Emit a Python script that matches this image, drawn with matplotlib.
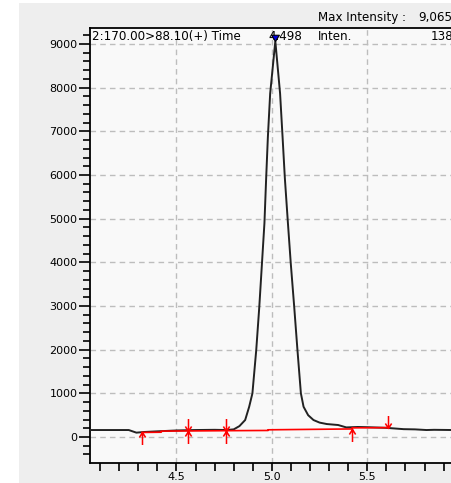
import matplotlib
matplotlib.use("Agg")
import matplotlib.pyplot as plt
from matplotlib.path import Path
from matplotlib.ticker import MultipleLocator
from matplotlib.patches import Rectangle

# chromatogram trace (time in min, intensity)
time = [4.05, 4.25, 4.29, 4.33, 4.40, 4.45, 4.50, 4.60, 4.70, 4.76, 4.80, 4.83,
        4.86, 4.881, 4.898, 4.918, 4.934, 4.948, 4.961, 4.970, 4.979, 4.991,
        5.018, 5.043, 5.056, 5.068, 5.084, 5.099, 5.117, 5.134, 5.152, 5.166,
        5.19, 5.218, 5.25, 5.288, 5.347, 5.39, 5.45, 5.50, 5.60, 5.69, 5.75,
        5.81, 5.85, 5.95]
inten = [160, 160, 100, 115, 130, 140, 150, 160, 165, 160, 175, 250,
         389, 693, 1000, 1990, 2980, 3975, 4900, 5925, 6870, 7865,
         9065, 7865, 6870, 5925, 4900, 3975, 2980, 1990, 1000, 693,
         500, 389, 330, 297, 275, 220, 230, 225, 210, 180, 175,
         160, 165, 160]

# integration baseline (red)
base_t = [4.32, 4.42, 4.42, 4.76, 4.98, 4.98, 5.42, 5.42, 5.61]
base_i = [105, 110, 135, 145, 150, 165, 185, 210, 215]

# peak start / end marks
up_t = [4.32, 4.56, 4.76, 5.42]
up_i = [105, 140, 145, 185]
down_t = [4.56, 4.76, 5.61]
down_i = [140, 145, 215]

apex_t = 5.018
apex_i = 9065

header = "2:170.00>88.10(+) Time"
rt_text = "4.498"

fig = plt.figure(figsize=(4.51, 4.83), dpi=100, facecolor="#eeeeee")
fig.patches.append(Rectangle((0, 0), 19 / 451, 1, transform=fig.transFigure,
                             facecolor="white", edgecolor="none", zorder=0))
fig.patches.append(Rectangle((0, 1 - 3 / 483), 1, 3 / 483, transform=fig.transFigure,
                             facecolor="white", edgecolor="none", zorder=0))

ax = fig.add_axes([90 / 451, 1 - 463 / 483, 0.818, 435 / 483])
ax.set_facecolor("#f9f9f9")
ax.set_xlim(4.047, 5.98)
ax.set_ylim(-595, 9366)

ax.plot(time, inten, color="#222222", lw=1.4, zorder=3)
ax.plot(base_t, base_i, color="red", lw=1.2, zorder=4)

up_arrow = Path([(0, -2), (0, 0), (-0.5, -0.8), (0, 0), (0.5, -0.8)],
                [Path.MOVETO, Path.LINETO, Path.MOVETO, Path.LINETO, Path.LINETO])
down_arrow = Path([(0, 2), (0, 0), (-0.5, 0.8), (0, 0), (0.5, 0.8)],
                  [Path.MOVETO, Path.LINETO, Path.MOVETO, Path.LINETO, Path.LINETO])
ax.plot(up_t, up_i, ls="none", marker=up_arrow, ms=18, mec="red", mfc="none",
        mew=1.1, zorder=5)
ax.plot(down_t, down_i, ls="none", marker=down_arrow, ms=18, mec="red", mfc="none",
        mew=1.1, zorder=5)

tri = Path([(-1, 1.6), (1, 1.6), (0, 0), (-1, 1.6)],
           [Path.MOVETO, Path.LINETO, Path.LINETO, Path.CLOSEPOLY])
ax.plot([apex_t], [apex_i], ls="none", marker=tri, ms=9, mfc="#0000dd",
        mec="black", mew=0.8, zorder=6, clip_on=False)

ax.xaxis.set_major_locator(MultipleLocator(0.5))
ax.xaxis.set_minor_locator(MultipleLocator(0.1))
ax.yaxis.set_major_locator(MultipleLocator(1000))
ax.yaxis.set_minor_locator(MultipleLocator(200))
ax.tick_params(axis="y", which="major", direction="out", length=8, width=1.2,
               labelsize=8, pad=1)
ax.tick_params(axis="y", which="minor", direction="out", length=5, width=1.2)
ax.tick_params(axis="x", which="both", direction="out", length=6, width=1.2,
               labelsize=8, pad=0.5)
ax.xaxis.set_major_formatter(lambda v, p: f"{v:.1f}")
ax.yaxis.set_major_formatter(lambda v, p: f"{int(v)}")
ax.grid(True, which="major", ls=(0, (4, 3)), color="#bdbdbd", lw=1.0)
ax.set_axisbelow(True)
for s in ["left", "bottom", "top"]:
    ax.spines[s].set_linewidth(1.3)
ax.spines["right"].set_visible(False)

ax.text(0.006, 0.995, header, transform=ax.transAxes, fontsize=8.6,
        va="top", ha="left", zorder=7)
ax.text(4.981, 0.995, rt_text, transform=ax.get_xaxis_transform(), fontsize=8.6,
        va="top", ha="left", zorder=5)
ax.text(5.242, 0.995, "Inten.", transform=ax.get_xaxis_transform(), fontsize=8.6,
        va="top", ha="left", zorder=7)
ax.text(5.83, 0.995, "138", transform=ax.get_xaxis_transform(), fontsize=8.6,
        va="top", ha="left", zorder=7)
fig.text(318 / 451, 1 - 17 / 483, "Max Intensity :", fontsize=8.6,
         va="center", ha="left")
fig.text(418 / 451, 1 - 17 / 483, "9,065", fontsize=8.6, va="center", ha="left")

fig.savefig("out.png", dpi=100, facecolor=fig.get_facecolor())
